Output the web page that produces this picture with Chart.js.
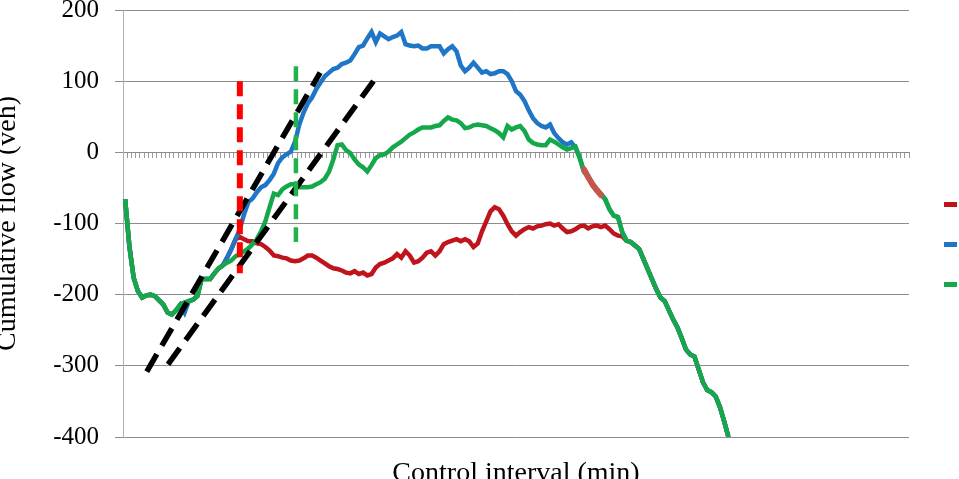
<!DOCTYPE html>
<html>
<head>
<meta charset="utf-8">
<script src="https://cdn.jsdelivr.net/npm/chart.js@4.4.1/dist/chart.umd.min.js"></script>
<style>
  html, body { margin: 0; padding: 0; background: #fff; }
  #wrap { width: 959px; height: 479px; }
</style>
</head>
<body>
<div id="wrap"><canvas id="flowChart"></canvas></div>
<script>
// Control intervals (no labels shown on the axis, only tick marks)
const intervals = Array.from({ length: 185 }, (_, i) => String(i + 1));
const yTicks = [-400, -300, -200, -100, 0, 100, 200];

// Cumulative flow per interval (veh)
const redFlow = [
  -66, -132, -176, -195, -204, -201, -200, -202, -208, -214,
  -225, -228, -222, -214, -211, -209, -207, -202, -178, -178,
  -178, -170, -163, -159, -148, -136, -122, -119, -122, -125,
  -125, -128, -129, -133, -138, -145, -146, -148, -149, -152,
  -153, -152, -149, -145, -145, -148, -152, -156, -160, -163,
  -164, -166, -169, -170, -167, -171, -169, -173, -171, -162,
  -157, -155, -152, -149, -143, -148, -139, -145, -155, -153,
  -148, -141, -139, -145, -139, -129, -126, -124, -122, -125,
  -122, -125, -133, -128, -111, -97, -83, -77, -80, -89,
  -101, -111, -117, -112, -108, -105, -107, -104, -103, -101,
  -100, -103, -101, -107, -112, -111, -108, -104, -103, -107,
  -104, -103, -105, -103, -108, -114, -117, -118, -124, -126,
  -131, -136, -150, -164, -178, -192, -204, -209, -222, -235,
  -246, -261, -277, -284, -287, -305, -323, -334, -337, -343,
  -358, -378, -400
];
const blueFlow = [
  -66, -132, -176, -195, -204, -201, -200, -202, -208, -214,
  -225, -228, -222, -214, -225, -209, -207, -202, -178, -178,
  -178, -170, -163, -159, -148, -136, -122, -108, -87, -70,
  -65, -56, -49, -46, -39, -30, -15, -7, -3, 1,
  15, 39, 56, 69, 77, 89, 98, 107, 112, 117,
  119, 124, 126, 129, 138, 148, 150, 160, 169, 155,
  167, 163, 159, 162, 164, 169, 152, 150, 149, 150,
  146, 146, 149, 149, 149, 139, 145, 149, 142, 122,
  114, 119, 126, 119, 112, 114, 110, 111, 114, 114,
  110, 100, 86, 81, 72, 59, 48, 41, 37, 35,
  39, 27, 20, 14, 11, 14, 7, -8, -27, -34,
  -46, -52, -59, -66, -80, -89, -91, -112, -124, -126,
  -131, -136, -150, -164, -178, -192, -204, -209, -222, -235,
  -246, -261, -277, -284, -287, -305, -323, -334, -337, -343,
  -358, -378, -400
];
const greenFlow = [
  -66, -132, -176, -195, -204, -201, -200, -202, -208, -214,
  -225, -228, -222, -214, -211, -209, -207, -202, -178, -178,
  -178, -170, -163, -159, -155, -152, -146, -143, -139, -135,
  -129, -122, -111, -97, -77, -58, -60, -52, -48, -45,
  -45, -49, -49, -49, -48, -45, -42, -37, -27, -10,
  10, 11, 3, -1, -10, -17, -21, -27, -18, -8,
  -4, -3, 1, 7, 11, 15, 20, 25, 28, 32,
  35, 35, 35, 37, 38, 44, 49, 46, 45, 41,
  34, 35, 38, 39, 38, 37, 34, 31, 27, 21,
  37, 32, 35, 37, 30, 18, 13, 11, 10, 10,
  18, 15, 11, 7, 4, 6, 8, -8, -27, -34,
  -46, -52, -59, -66, -80, -89, -91, -112, -124, -126,
  -131, -136, -150, -164, -178, -192, -204, -209, -222, -235,
  -246, -261, -277, -284, -287, -305, -323, -334, -337, -343,
  -358, -378, -400
];
// short reddish stretch visible over the merged descent
const overlapStart = 108;
const overlapFlow = [-24, -35, -45, -53, -60];

// Reference markers (interval position, flow)
const redMarkX = [27, 27];
const redMarkY = [100, -170];
const greenMarkX = [40.2, 40.2];
const greenMarkY = [121, -126];
const slopeAX = [5.1, 45.9];
const slopeAY = [-308, 112];
const slopeBX = [10.1, 58.8];
const slopeBY = [-298, 103];

function toPoints(xs, ys) {
    return xs.map((x, i) => ({ x: x, y: ys[i] }));
}

const serif = 'Liberation Serif';

document.addEventListener('DOMContentLoaded', function() {
    const ctx = document.getElementById('flowChart').getContext('2d');

    const flowLine = (label, data, color, order) => ({
        label: label,
        data: data,
        borderColor: color,
        backgroundColor: color,
        borderWidth: 4.5,
        pointRadius: 0,
        tension: 0,
        fill: false,
        order: order
    });

    const markLine = (label, points, color, width, dash, order) => ({
        label: label,
        data: points,
        xAxisID: 'x2',
        borderColor: color,
        borderWidth: width,
        borderDash: dash,
        borderCapStyle: 'butt',
        pointRadius: 0,
        fill: false,
        order: order
    });

    new Chart(ctx, {
        type: 'line',
        data: {
            labels: intervals,
            datasets: [
                flowLine('Red', redFlow, '#c0141c', 7),
                flowLine('Blue', blueFlow, '#1f75c6', 6),
                flowLine('Green', greenFlow, '#15a84a', 5),
                Object.assign(markLine('Overlap',
                    overlapFlow.map((v, i) => ({ x: overlapStart + i, y: v })),
                    '#c4564c', 6, [], 4), { borderCapStyle: 'round' }),
                markLine('Slope A', toPoints(slopeAX, slopeAY), '#000000', 5.5, [20, 10], 3),
                markLine('Slope B', toPoints(slopeBX, slopeBY), '#000000', 5.5, [20, 10], 3),
                markLine('Green mark', toPoints(greenMarkX, greenMarkY), '#22b24c', 4.5, [15, 8], 2),
                markLine('Red mark', toPoints(redMarkX, redMarkY), '#ff0000', 6, [15, 8], 1)
            ]
        },
        options: {
            responsive: true,
            maintainAspectRatio: false,
            animation: false,
            layout: {
                padding: { top: 10, right: 0, bottom: 0, left: 0 }
            },
            scales: {
                x: {
                    type: 'category',
                    position: { y: 0 },
                    offset: true,
                    grid: {
                        offset: true,
                        drawOnChartArea: false,
                        drawTicks: true,
                        tickLength: 5,
                        color: '#9a9a9a'
                    },
                    border: { color: '#8c8c8c', width: 1 },
                    ticks: { display: false }
                },
                x2: {
                    type: 'linear',
                    display: false,
                    min: -0.5,
                    max: intervals.length - 0.5
                },
                y: {
                    min: yTicks[0],
                    max: yTicks[yTicks.length - 1],
                    afterBuildTicks: function(scale) {
                        scale.ticks = yTicks.map(v => ({ value: v }));
                    },
                    afterFit: function(scale) {
                        scale.width = 123;
                        scale.paddingTop = 0;
                        scale.paddingBottom = 0;
                    },
                    grid: {
                        color: '#8c8c8c',
                        tickLength: 8
                    },
                    border: { color: '#b0b0b0', width: 1 },
                    ticks: {
                        color: '#000000',
                        padding: 16,
                        font: { family: serif, size: 25 }
                    },
                    title: {
                        display: true,
                        text: 'Cumulative flow (veh)',
                        color: '#000000',
                        padding: { top: -6, bottom: 0 },
                        font: { family: serif, size: 28, lineHeight: 1 }
                    }
                }
            },
            plugins: {
                legend: {
                    display: true,
                    position: 'right',
                    maxWidth: 50,
                    labels: {
                        boxWidth: 13,
                        boxHeight: 5,
                        padding: 35,
                        font: { size: 2 },
                        useBorderRadius: true,
                        borderRadius: 2,
                        generateLabels: function(chart) {
                            return chart.data.datasets.slice(0, 3).map((ds, i) => ({
                                text: '',
                                fillStyle: ds.borderColor,
                                strokeStyle: ds.borderColor,
                                lineWidth: 0,
                                hidden: false,
                                datasetIndex: i
                            }));
                        }
                    }
                },
                title: {
                    display: true,
                    text: 'Control interval (min)',
                    position: 'bottom',
                    fullSize: false,
                    color: '#000000',
                    padding: { top: 23, bottom: -9 },
                    font: { family: serif, size: 28, weight: 'normal', lineHeight: 1 }
                },
                tooltip: { enabled: false }
            }
        }
    });
});
</script>
</body>
</html>
